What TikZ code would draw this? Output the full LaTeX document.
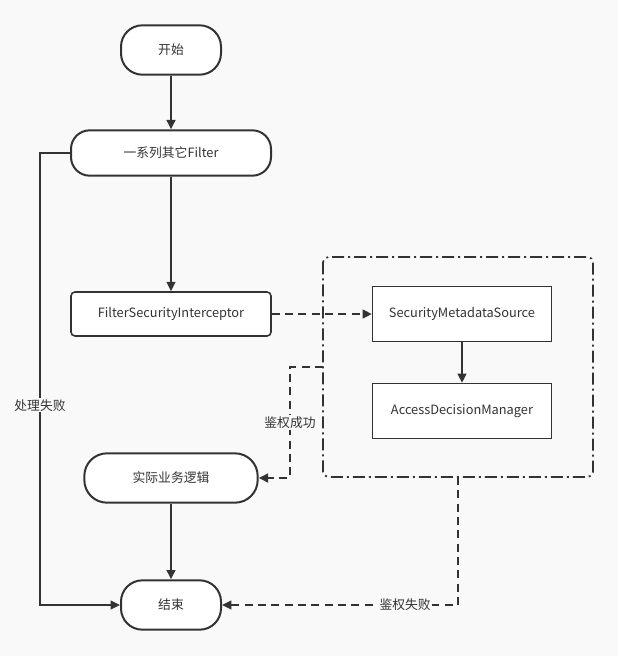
\documentclass[tikz,border=0pt]{standalone}
\usepackage{fontspec}
\setmainfont{Noto Sans CJK SC}
\usetikzlibrary{arrows.meta,positioning,backgrounds}
\definecolor{bgcol}  {RGB}{249,249,249}
\definecolor{inkcol} {RGB}{ 51, 51, 51}
\newcommand{\dgfont}{\fontsize{9.6pt}{11pt}\selectfont}
\tikzset{
  term/.style={draw=inkcol,fill=white,line width=1.5pt,rounded corners=16pt,
               minimum width=75pt,minimum height=37pt,
               font=\dgfont,text=inkcol},
  termwide/.style={term,minimum width=150pt,minimum height=34pt,rounded corners=14pt},
  termmid/.style={term,minimum width=130pt,minimum height=37pt,rounded corners=17pt},
  proc/.style={draw=inkcol,fill=white,line width=1.2pt,rounded corners=3pt,
               minimum width=150pt,minimum height=33pt,
               font=\dgfont,text=inkcol},
  sqbox/.style={draw=inkcol,fill=white,line width=1.2pt,
                minimum width=134pt,minimum height=41pt,
                font=\dgfont,text=inkcol},
  arr/.style={-{Triangle[length=7pt,width=6.5pt]},line width=1.5pt,color=inkcol},
  darr/.style={arr,dash pattern=on 6pt off 4pt},
  grp/.style={draw=inkcol,line width=1.3pt,rounded corners=4pt,
              dash pattern=on 9pt off 3pt on 1.5pt off 3pt},
  lbl/.style={font=\dgfont,text=inkcol,fill=bgcol,inner sep=1pt},
}
\begin{document}
\begin{tikzpicture}[x=0.75pt,y=-0.75pt]
  \fill[bgcol] (0,0) rectangle (618,656);
  \useasboundingbox (0,0) rectangle (618,656);

  % main column
  \node[term]     (start)  at (171,50)  {开始};
  \node[termwide] (others) at (171,153) {一系列其它Filter};
  \node[proc]     (fsi)    at (171,314) {FilterSecurityInterceptor};
  \node[termmid]  (biz)    at (171,478) {实际业务逻辑};
  \node[term]     (finish) at (171,605) {结束};

  % decision group
  \node[sqbox] (sms) at (462,314) {SecurityMetadataSource};
  \node[sqbox] (adm) at (462,411) {AccessDecisionManager};
  \draw[grp] (323,257) rectangle (593,477);
  \coordinate (grpW) at (323,367);
  \coordinate (grpS) at (458,477);

  \draw[arr] (start) -- (others);
  \draw[arr] (others) -- (fsi);
  \draw[arr] (biz) -- (finish);
  \draw[arr] (sms) -- (adm);
  \draw[darr] (fsi) -- (sms);

  % failure path on the left
  \draw[arr] (others.west) -- ++(-30,0) |- node[lbl,pos=0.279]{处理失败} (finish.west);

  % success / failure of the check
  \draw[darr] (grpW) -- (290,367) |- node[lbl,pos=0.25]{鉴权成功} (biz.east);
  \draw[darr] (grpS) |- node[lbl,pos=0.612]{鉴权失败} (finish.east);
\end{tikzpicture}
\end{document}
